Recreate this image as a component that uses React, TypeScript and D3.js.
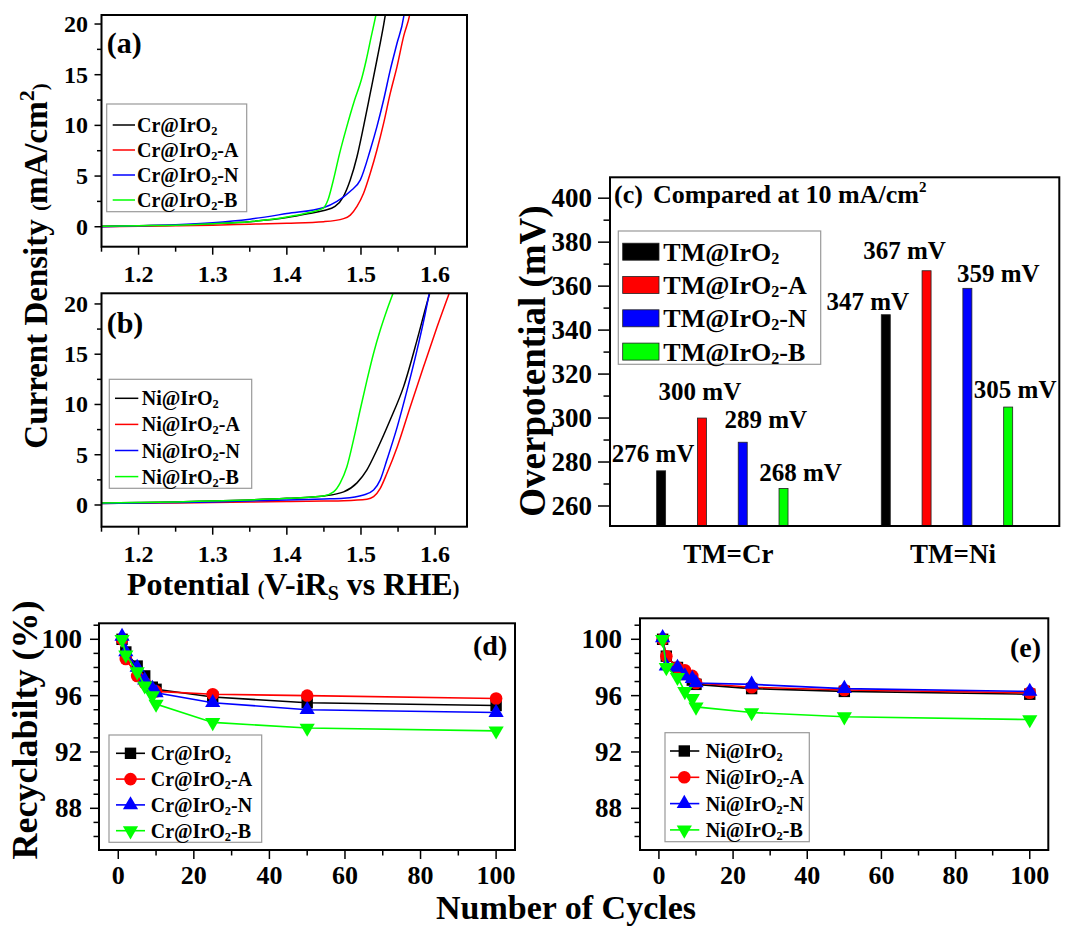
import React from 'react';
import * as d3 from 'd3';

const FONT = "'Liberation Serif','Times New Roman',Times,serif";
const SERIES_COLORS = ['#000000', '#ff0000', '#0000ff', '#00ff00'];
const SAMPLE_SUFFIXES = ['', '-A', '-N', '-B'];

// ---------- Panel (a): LSV of Cr@IrO2 samples  [potential V, current mA/cm2]
const crIrO2Lsv: [number, number][] = [[1.15, 0.05], [1.2, 0.1], [1.25, 0.15], [1.3, 0.3], [1.35, 0.5], [1.4, 0.9], [1.43, 1.3], [1.45, 1.6], [1.465, 2.0], [1.4765, 3.0], [1.4855, 4.6], [1.4946, 6.9], [1.5035, 9.9], [1.5126, 13.2], [1.5216, 16.5], [1.5305, 19.9], [1.534, 21.4]];
const crIrO2ALsv: [number, number][] = [[1.15, 0.0], [1.2, 0.05], [1.25, 0.1], [1.3, 0.15], [1.35, 0.25], [1.4, 0.35], [1.45, 0.5], [1.4766, 0.8], [1.4856, 1.15], [1.4946, 2.0], [1.5035, 3.3], [1.5126, 5.3], [1.5216, 7.6], [1.5305, 10.2], [1.5396, 13.2], [1.5486, 15.8], [1.5576, 18.8], [1.5657, 20.9], [1.567, 21.4]];
const crIrO2NLsv: [number, number][] = [[1.15, 0.0], [1.2, 0.1], [1.25, 0.2], [1.3, 0.4], [1.35, 0.75], [1.4, 1.3], [1.45, 1.9], [1.4676, 2.5], [1.4856, 3.5], [1.499, 4.6], [1.5126, 7.6], [1.5216, 9.9], [1.5305, 12.5], [1.5396, 15.5], [1.5486, 18.1], [1.5576, 20.7], [1.559, 21.4]];
const crIrO2BLsv: [number, number][] = [[1.15, 0.05], [1.2, 0.1], [1.25, 0.15], [1.3, 0.3], [1.35, 0.5], [1.4, 0.95], [1.43, 1.4], [1.4487, 1.81], [1.4554, 2.63], [1.4622, 4.44], [1.4712, 7.24], [1.4802, 9.7], [1.4914, 12.5], [1.5004, 14.47], [1.5071, 16.45], [1.5138, 18.75], [1.5196, 20.7], [1.5215, 21.4]];

// ---------- Panel (b): LSV of Ni@IrO2 samples
const niIrO2Lsv: [number, number][] = [[1.15, 0.2], [1.2, 0.25], [1.25, 0.3], [1.3, 0.4], [1.35, 0.5], [1.4, 0.66], [1.45, 0.9], [1.4766, 1.3], [1.4946, 2.2], [1.508, 3.5], [1.5216, 5.5], [1.5396, 8.5], [1.5576, 11.8], [1.5756, 16.4], [1.589, 20.1], [1.594, 21.4]];
const niIrO2ALsv: [number, number][] = [[1.15, 0.15], [1.2, 0.18], [1.25, 0.2], [1.3, 0.25], [1.35, 0.3], [1.4, 0.35], [1.45, 0.4], [1.4766, 0.43], [1.508, 0.57], [1.517, 0.83], [1.526, 1.66], [1.535, 3.15], [1.549, 5.8], [1.5666, 9.8], [1.5846, 13.8], [1.6026, 17.7], [1.6207, 21.4]];
const niIrO2NLsv: [number, number][] = [[1.15, 0.15], [1.2, 0.2], [1.25, 0.25], [1.3, 0.3], [1.35, 0.4], [1.4, 0.5], [1.45, 0.6], [1.4766, 0.67], [1.5035, 1.0], [1.517, 1.5], [1.526, 2.5], [1.535, 4.5], [1.549, 7.8], [1.5621, 11.4], [1.5756, 15.4], [1.5868, 19.1], [1.593, 21.4]];
const niIrO2BLsv: [number, number][] = [[1.15, 0.2], [1.2, 0.25], [1.25, 0.3], [1.3, 0.4], [1.35, 0.5], [1.4, 0.66], [1.4495, 0.9], [1.463, 1.3], [1.472, 2.2], [1.481, 3.8], [1.49, 6.5], [1.499, 9.5], [1.508, 12.4], [1.517, 15.1], [1.526, 17.4], [1.535, 19.4], [1.545, 21.4]];

const lsvXTicks = [1.2, 1.3, 1.4, 1.5, 1.6];
const lsvXMinorTicks = [1.15, 1.25, 1.35, 1.45, 1.55];
const lsvYTicks = [0, 5, 10, 15, 20];
const lsvYMinorTicks = [2.5, 7.5, 12.5, 17.5];

// ---------- Panel (c): overpotential at 10 mA/cm2
const tmCategories = ['TM=Cr', 'TM=Ni'];
const tmSeries = ['TM@IrO', 'TM@IrO-A', 'TM@IrO-N', 'TM@IrO-B'];
const overpotentialCr = [276, 300, 289, 268];
const overpotentialNi = [347, 367, 359, 305];
const overYTicks = [260, 280, 300, 320, 340, 360, 380, 400];
const overYMinorTicks = [270, 290, 310, 330, 350, 370, 390];
// label placement (dx from bar centre, dy from bar top), layout only
const barLabelOffsetsCr = [[-8, -9], [-2, -18], [23, -14], [17, -7]];
const barLabelOffsetsNi = [[-18, -5], [-22, -12], [31, -6], [7, -9]];

// ---------- Panels (d),(e): recyclability
const cycles = [1, 2, 5, 7, 9, 10, 25, 50, 100];
const crIrO2Recyc = [100, 99.1, 98.1, 97.4, 96.6, 96.45, 95.9, 95.5, 95.3];
const crIrO2ARecyc = [100, 98.6, 97.4, 96.9, 96.4, 96.3, 96.1, 96.0, 95.8];
const crIrO2NRecyc = [100.2, 99.1, 98.0, 97.1, 96.5, 96.2, 95.5, 95.0, 94.8];
const crIrO2BRecyc = [100, 98.9, 97.7, 96.7, 96.0, 95.4, 94.1, 93.7, 93.5];
const niIrO2Recyc = [100, 98.8, 98.0, 97.5, 97.1, 96.8, 96.5, 96.3, 96.1];
const niIrO2ARecyc = [100, 98.8, 98.0, 97.8, 97.4, 96.9, 96.6, 96.4, 96.2];
const niIrO2NRecyc = [100.1, 98.1, 98.0, 97.4, 97.2, 96.9, 96.8, 96.5, 96.3];
const niIrO2BRecyc = [100, 98.0, 97.3, 96.3, 95.8, 95.2, 94.8, 94.5, 94.3];
const recXTicks = [0, 20, 40, 60, 80, 100];
const recXMinorTicks = [10, 30, 50, 70, 90];
const recYTicks = [88, 92, 96, 100];
const recYMinorTicks = [86, 87, 89, 90, 91, 93, 94, 95, 97, 98, 99, 101];

// ---------- helpers
const SampleName = ({ prefix, suffix }: { prefix: string; suffix: string }) => (
  <>
    <tspan>{prefix}</tspan>
    <tspan fontSize="0.62em" dy={3}>2</tspan>
    <tspan dy={-3}>{suffix}</tspan>
  </>
);

const Txt = ({ x, y, size, anchor = 'start', rotate = false, children }: any) => (
  <text
    x={rotate ? 0 : x}
    y={rotate ? 0 : y}
    transform={rotate ? `translate(${x},${y}) rotate(-90)` : undefined}
    fontSize={size}
    fontFamily={FONT}
    fontWeight="bold"
    textAnchor={anchor}
    fill="#000"
  >
    {children}
  </text>
);

const Frame = ({ x0, x1, y0, y1 }: any) => (
  <rect x={x0} y={y0} width={x1 - x0} height={y1 - y0} fill="none" stroke="#000" strokeWidth={2} />
);

const YTicks = ({ scale, x, major, minor, majLen, minLen, labelX, size, dyLabel, fmt }: any) => (
  <g>
    {major.map((t: number) => (
      <g key={'M' + t}>
        <line x1={x - majLen} x2={x} y1={scale(t)} y2={scale(t)} stroke="#000" strokeWidth={1.5} />
        <Txt x={labelX} y={scale(t) + dyLabel} size={size} anchor="end">{fmt ? fmt(t) : t}</Txt>
      </g>
    ))}
    {minor.map((t: number) => (
      <line key={'m' + t} x1={x - minLen} x2={x} y1={scale(t)} y2={scale(t)} stroke="#000" strokeWidth={1.5} />
    ))}
  </g>
);

const XTicks = ({ scale, y, major, minor, majLen, minLen, labelY, size, fmt }: any) => (
  <g>
    {major.map((t: number) => (
      <g key={'M' + t}>
        <line x1={scale(t)} x2={scale(t)} y1={y} y2={y + majLen} stroke="#000" strokeWidth={1.5} />
        {labelY != null && <Txt x={scale(t)} y={labelY} size={size} anchor="middle">{fmt ? fmt(t) : t}</Txt>}
      </g>
    ))}
    {minor.map((t: number) => (
      <line key={'m' + t} x1={scale(t)} x2={scale(t)} y1={y} y2={y + minLen} stroke="#000" strokeWidth={1.5} />
    ))}
  </g>
);

// ---------- LSV panel
const LsvPanel = ({ id, curves, metal, yDomain, yRange, label, labelY, legendBox, legendRows, legendLine, legendText, xLabelY }: any) => {
  const x = d3.scaleLinear().domain([1.15, 1.643]).range([101.5, 467]);
  const y = d3.scaleLinear().domain(yDomain).range(yRange);
  const line = d3.line<[number, number]>().x((d) => x(d[0])).y((d) => y(d[1])).curve(d3.curveMonotoneX);
  const [yb, yt] = yRange;
  return (
    <g>
      <defs>
        <clipPath id={id}>
          <rect x={101.5} y={yt} width={467 - 101.5} height={yb - yt} />
        </clipPath>
      </defs>
      <g clipPath={`url(#${id})`}>
        {curves.map((c: [number, number][], i: number) => (
          <path key={i} d={line(c) || ''} fill="none" stroke={SERIES_COLORS[i]} strokeWidth={1.5} />
        ))}
      </g>
      <Frame x0={101.5} x1={467} y0={yt} y1={yb} />
      <YTicks scale={y} x={101.5} major={lsvYTicks} minor={lsvYMinorTicks} majLen={7} minLen={4.5} labelX={88} size={24} dyLabel={8} />
      <XTicks scale={x} y={yb} major={lsvXTicks} minor={lsvXMinorTicks} majLen={8} minLen={5} labelY={xLabelY} size={24} fmt={(t: number) => t.toFixed(1)} />
      <Txt x={106.7} y={labelY} size={30}>{label}</Txt>
      <rect x={legendBox[0]} y={legendBox[1]} width={legendBox[2] - legendBox[0]} height={legendBox[3] - legendBox[1]} fill="#fff" stroke="#999" strokeWidth={1.2} />
      {SAMPLE_SUFFIXES.map((s, i) => {
        const ry = legendRows[0] + i * legendRows[1];
        return (
          <g key={s}>
            <line x1={legendLine[0]} x2={legendLine[1]} y1={ry} y2={ry} stroke={SERIES_COLORS[i]} strokeWidth={1.5} />
            <Txt x={legendText} y={ry + 7} size={20}><SampleName prefix={`${metal}@IrO`} suffix={s} /></Txt>
          </g>
        );
      })}
    </g>
  );
};

// ---------- Recyclability panel
const markerTypes = [d3.symbolSquare, d3.symbolCircle, d3.symbolTriangle, d3.symbolTriangle];
const markerSizes = [130, 125, 100, 100];
const Marker = ({ i, cx, cy }: any) => {
  const p = d3.symbol().type(markerTypes[i]).size(markerSizes[i])() || '';
  return <path d={p} transform={`translate(${cx},${cy})${i === 3 ? ' rotate(180)' : ''}`} fill={SERIES_COLORS[i]} />;
};

const RecPanel = ({ series, metal, frame, yTop, label, labelPos, legendBox, legendRows, legendLine, legendMarker, legendText, yLabelX }: any) => {
  const [x0, x1, y0, y1] = frame;
  const x = d3.scaleLinear().domain([-5.1, 105]).range([x0, x1]);
  const y = d3.scaleLinear().domain([85.04, yTop]).range([y1, y0]);
  const line = d3.line<number>().x((_, k) => x(cycles[k])).y((d) => y(d));
  return (
    <g>
      {series.map((s: number[], i: number) => (
        <g key={i}>
          <path d={line(s) || ''} fill="none" stroke={SERIES_COLORS[i]} strokeWidth={1.6} />
          {s.map((v, k) => <Marker key={k} i={i} cx={x(cycles[k])} cy={y(v)} />)}
        </g>
      ))}
      <Frame x0={x0} x1={x1} y0={y0} y1={y1} />
      <YTicks scale={y} x={x0} major={recYTicks} minor={recYMinorTicks} majLen={9} minLen={5.5} labelX={yLabelX} size={27} dyLabel={9} />
      <XTicks scale={x} y={y1} major={recXTicks} minor={recXMinorTicks} majLen={9} minLen={5.5} labelY={884} size={26} />
      <Txt x={labelPos[0]} y={labelPos[1]} size={28}>{label}</Txt>
      <rect x={legendBox[0]} y={legendBox[1]} width={legendBox[2] - legendBox[0]} height={legendBox[3] - legendBox[1]} fill="#fff" stroke="#999" strokeWidth={1.2} />
      {SAMPLE_SUFFIXES.map((sfx, i) => {
        const ry = legendRows[0] + i * legendRows[1];
        return (
          <g key={sfx}>
            <line x1={legendLine[0]} x2={legendLine[1]} y1={ry} y2={ry} stroke={SERIES_COLORS[i]} strokeWidth={1.6} />
            <Marker i={i} cx={legendMarker} cy={ry} />
            <Txt x={legendText} y={ry + 7} size={20}><SampleName prefix={`${metal}@IrO`} suffix={sfx} /></Txt>
          </g>
        );
      })}
    </g>
  );
};

// ---------- Bar panel
const BarPanel = () => {
  const x0 = 610, x1 = 1059.3, yTop = 177.3, yBot = 526;
  const xg = d3.scaleBand<string>().domain(tmCategories).range([x0, x1]);
  const xs = d3.scaleBand<string>().domain(tmSeries).range([-81.6, 81.6]);
  const y = d3.scaleLinear().domain([250.9, 409.5]).range([yBot, yTop]);
  const groups = [overpotentialCr, overpotentialNi];
  const offsets = [barLabelOffsetsCr, barLabelOffsetsNi];
  const barW = 9;
  return (
    <g>
      {groups.map((vals, g) => {
        const gc = (xg(tmCategories[g]) || 0) + xg.bandwidth() / 2;
        return vals.map((v, i) => {
          const cx = gc + (xs(tmSeries[i]) || 0) + xs.bandwidth() / 2;
          const top = y(v);
          const [dx, dy] = offsets[g][i];
          return (
            <g key={`${g}-${i}`}>
              <rect x={cx - barW / 2} y={top} width={barW} height={yBot - top} fill={SERIES_COLORS[i]} stroke="#222" strokeWidth={0.8} />
              <Txt x={cx + dx} y={top + dy} size={25} anchor="middle">{v} mV</Txt>
            </g>
          );
        });
      })}
      <Frame x0={x0} x1={x1} y0={yTop} y1={yBot} />
      <YTicks scale={y} x={x0} major={overYTicks} minor={overYMinorTicks} majLen={12} minLen={6.5} labelX={592} size={27} dyLabel={9} />
      {tmCategories.map((c) => (
        <Txt key={c} x={(xg(c) || 0) + xg.bandwidth() / 2 + 6} y={563} size={27} anchor="middle">{c}</Txt>
      ))}
      <Txt x={614} y={203.3} size={26}>(c)</Txt>
      <Txt x={653} y={203.3} size={26}>Compared at 10 mA/cm<tspan fontSize={15} dy={-11}>2</tspan></Txt>
      <rect x={618.3} y={231} width={820.7 - 618.3} height={364.3 - 231} fill="#fff" stroke="#999" strokeWidth={1.2} />
      {tmSeries.map((s, i) => {
        const ry = 251.7 + i * 33.3;
        return (
          <g key={s}>
            <rect x={622.7} y={ry - 8.5} width={36.3} height={17} fill={SERIES_COLORS[i]} stroke="#222" strokeWidth={0.8} />
            <Txt x={663.3} y={ry + 9} size={26}><SampleName prefix="TM@IrO" suffix={SAMPLE_SUFFIXES[i]} /></Txt>
          </g>
        );
      })}
      <Txt x={545} y={361} size={37} anchor="middle" rotate>Overpotential (mV)</Txt>
    </g>
  );
};

export default function App() {
  return (
    <svg width={1065} height={927} style={{ position: 'absolute', left: 0, top: 0, background: '#fff' }}>
      <rect x={0} y={0} width={1065} height={927} fill="#fff" />
      <LsvPanel id="clipA" curves={[crIrO2Lsv, crIrO2ALsv, crIrO2NLsv, crIrO2BLsv]} metal="Cr"
        yDomain={[-1.97, 20.89]} yRange={[246.7, 15]} label="(a)" labelY={53.3}
        legendBox={[106.7, 104, 246.7, 211.7]} legendRows={[125, 25]} legendLine={[112.7, 135]} legendText={137} xLabelY={281.7} />
      <LsvPanel id="clipB" curves={[niIrO2Lsv, niIrO2ALsv, niIrO2NLsv, niIrO2BLsv]} metal="Ni"
        yDomain={[-2.16, 21.06]} yRange={[526.7, 293.3]} label="(b)" labelY={333.3}
        legendBox={[109.3, 379.3, 251.7, 488.3]} legendRows={[398.3, 26.1]} legendLine={[115, 138.3]} legendText={141.7} xLabelY={561.7} />
      <Txt x={47} y={266} size={33} anchor="middle" rotate>
        Current Density <tspan fontSize={21}>(</tspan>mA/cm<tspan fontSize={22} dy={-13}>2</tspan><tspan fontSize={21} dy={13}>)</tspan>
      </Txt>
      <Txt x={127} y={595} size={32}>
        Potential <tspan fontSize={20}>(</tspan>V-iR<tspan fontSize={20} dy={5}>S</tspan><tspan dy={-5}> vs RHE</tspan><tspan fontSize={20}>)</tspan>
      </Txt>
      <BarPanel />
      <RecPanel series={[crIrO2Recyc, crIrO2ARecyc, crIrO2NRecyc, crIrO2BRecyc]} metal="Cr"
        frame={[99, 515, 623.3, 850]} yTop={101.136} label="(d)" labelPos={[473, 655]}
        legendBox={[109, 735, 261.7, 842.3]} legendRows={[753.3, 25.8]} legendLine={[116, 145]} legendMarker={130.5} legendText={150.7} yLabelX={82} />
      <RecPanel series={[niIrO2Recyc, niIrO2ARecyc, niIrO2NRecyc, niIrO2BRecyc]} metal="Ni"
        frame={[640, 1048.3, 618.3, 850]} yTop={101.49} label="(e)" labelPos={[1010, 656.7]}
        legendBox={[665, 732.7, 809.3, 841.7]} legendRows={[751, 26.3]} legendLine={[670, 699.3]} legendMarker={684.3} legendText={705.7} yLabelX={622} />
      <Txt x={37} y={730} size={36} anchor="middle" rotate>Recyclabilty (%)</Txt>
      <Txt x={566} y={919} size={34} anchor="middle">Number of Cycles</Txt>
    </svg>
  );
}
